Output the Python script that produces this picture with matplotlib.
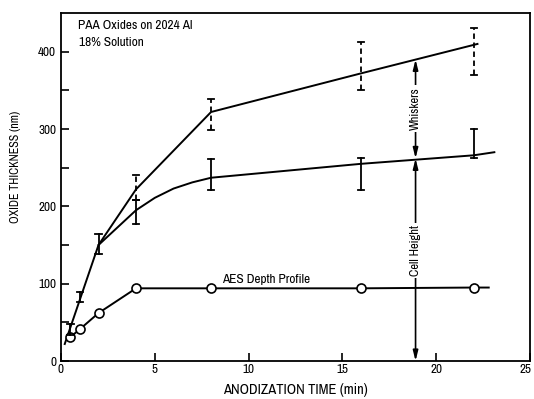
import matplotlib
matplotlib.use("Agg")
import matplotlib.pyplot as plt
import matplotlib.transforms as mtransforms
from matplotlib import font_manager as fm

names = sorted({f.name for f in fm.fontManager.ttflist})
narrow = [n for n in names if "Narrow" in n or "Condensed" in n]
family = narrow[0] if narrow else "DejaVu Sans"
if "Liberation Sans Narrow" in names:
    family = "Liberation Sans Narrow"
plt.rcParams["font.family"] = [family, "DejaVu Sans"]

# data
total_time = [0.2, 2, 4, 8, 16, 22.2]
total_thick = [22, 150, 222, 322, 372, 410]

cell_time = [2, 4, 5, 6, 7, 8, 16, 22, 23.1]
cell_thick = [150, 195, 211, 223, 231, 237, 255, 266, 270]

aes_time = [0.5, 1, 2, 4, 8, 16, 22, 22.8]
aes_thick = [31, 41, 62, 94, 94, 94, 95, 95]

solid_bar_time = [0.5, 1, 2, 4, 8, 16, 22]
solid_bar_low = [33, 76, 138, 177, 221, 221, 262]
solid_bar_high = [48, 89, 164, 208, 261, 262, 300]

dash_bar_time = [4, 8, 16, 22]
dash_bar_low = [208, 299, 351, 370]
dash_bar_high = [241, 339, 412, 431]

x_ticks = [0, 5, 10, 15, 20, 25]
y_ticks = [0, 100, 200, 300, 400]

fig = plt.figure(figsize=(5.34, 3.99), dpi=100)
ax = fig.add_axes([0.1142, 0.0952, 0.8783, 0.8722])
ax.set_xlim(0, 25)
ax.set_ylim(0, 450)

lw = 1.4
ax.plot(total_time, total_thick, color="black", lw=lw)
ax.plot(cell_time, cell_thick, color="black", lw=lw)
ax.plot(aes_time, aes_thick, color="black", lw=lw, marker="o", ms=6.5,
        mfc="white", mec="black", mew=1.2, markevery=list(range(len(aes_time) - 1)))

cap = 0.17
for t, lo, hi in zip(solid_bar_time, solid_bar_low, solid_bar_high):
    ax.plot([t, t], [lo, hi], color="black", lw=1.3)
    ax.plot([t - cap, t + cap], [lo, lo], color="black", lw=1.3)
    ax.plot([t - cap, t + cap], [hi, hi], color="black", lw=1.3)
for t, lo, hi in zip(dash_bar_time, dash_bar_low, dash_bar_high):
    ax.plot([t, t], [lo, hi], color="black", lw=1.3, ls=(0, (3, 2)))
    ax.plot([t - cap, t + cap], [lo, lo], color="black", lw=1.3)
    ax.plot([t - cap, t + cap], [hi, hi], color="black", lw=1.3)

# annotation arrows at x = 18.9
xa = 18.9
top_at = 390
cell_at = 262
arr = dict(arrowstyle="-|>,head_length=0.6,head_width=0.15", color="black", lw=1.2, shrinkA=0, shrinkB=0)
ax.annotate("", xy=(xa, top_at), xytext=(xa, 326), arrowprops=arr)
ax.annotate("", xy=(xa, cell_at), xytext=(xa, 326), arrowprops=arr)
ax.annotate("", xy=(xa, cell_at), xytext=(xa, 143), arrowprops=arr)
ax.annotate("", xy=(xa, 0), xytext=(xa, 143), arrowprops=arr)
ax.text(xa, 326, "Whiskers", rotation=90, ha="center", va="center", fontsize=9,
        bbox=dict(facecolor="white", edgecolor="none", pad=1.5))
ax.text(xa, 143, "Cell Height", rotation=90, ha="center", va="center", fontsize=9,
        bbox=dict(facecolor="white", edgecolor="none", pad=1.5))

ax.text(0.9, 434, "PAA Oxides on 2024 Al", fontsize=9.6, va="center")
ax.text(0.95, 412, "18% Solution", fontsize=9.6, va="center")
ax.text(8.6, 106, "AES Depth Profile", fontsize=9.6, va="center")

ax.set_xticks(x_ticks)
ax.set_yticks(y_ticks)
ax.set_yticks([50, 150, 250, 350], minor=True)
ax.tick_params(axis="both", which="both", direction="in", labelsize=9.5, width=1.2)
ax.tick_params(axis="both", which="major", length=6)
ax.tick_params(axis="x", which="major", pad=2)
ax.tick_params(axis="y", which="minor", length=6)
for s in ax.spines.values():
    s.set_linewidth(1.3)

last = ax.get_xticklabels()[-1]
last.set_transform(last.get_transform() + mtransforms.ScaledTranslation(-4 / 100, 0, fig.dpi_scale_trans))

ax.set_xlabel("ANODIZATION TIME (min)", fontsize=10.5, labelpad=6)
ax.set_ylabel("OXIDE THICKNESS (nm)", fontsize=8.6)
ax.yaxis.set_label_coords(-0.085, 0.557)

fig.savefig("out.png", dpi=100)
